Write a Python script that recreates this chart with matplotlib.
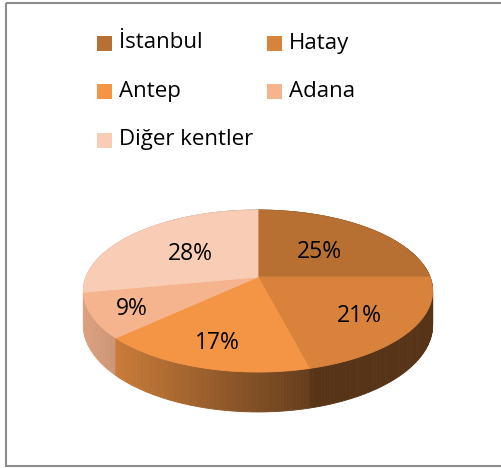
import numpy as np
import matplotlib.pyplot as plt
from matplotlib.patches import Polygon, Rectangle

labels = ['İstanbul', 'Hatay', 'Antep', 'Adana', 'Diğer kentler']
values = [25, 21, 17, 9, 28]
colors = ['#B77032', '#D9823C', '#F39545', '#F5B48E', '#F8CCB5']

W, H = 502, 468
CX, CY = 258, 277      # pie apex, pixels
SX, SY = 172, 78.6     # disk scale
K = 0.173              # perspective strength
DEPTH = 33             # side wall height

plt.rcParams['font.family'] = ['Open Sans', 'DejaVu Sans']


def project(r, ang):
  # ang in degrees, clockwise from 12 o'clock, in the disk plane
  a = np.radians(ang)
  u = r * np.sin(a)
  v = r * np.cos(a)
  w = 1 + K * v
  return CX + SX * u / w, CY - SY * v / w, v, w


def shade(c, f):
  rgb = np.array(plt.matplotlib.colors.to_rgb(c))
  return tuple(np.clip(rgb * f, 0, 1))


fig = plt.figure(figsize=(5.02, 4.68), dpi=100)
ax = fig.add_axes([0, 0, 1, 1])
ax.set_xlim(0, W)
ax.set_ylim(H, 0)
ax.axis('off')

# chart frame
ax.add_patch(Rectangle((6, 3), 540, 463, fill=False, edgecolor='#8c8c8c', lw=1.5))

total = float(sum(values))
ends = np.cumsum(values) / total * 360.0
starts = np.concatenate([[0], ends[:-1]])

# silhouette extent for side shading
xs_all, _, _, _ = project(1.0, np.linspace(0, 360, 721))
xmin, xmax = xs_all.min(), xs_all.max()

# side walls, painter's order (far first)
strips = []
for i in range(len(values)):
  t = np.linspace(starts[i], ends[i], max(int(values[i] * 4), 8))
  for a0, a1 in zip(t[:-1], t[1:]):
    x0, y0, v0, w0 = project(1.0, a0)
    x1, y1, v1, w1 = project(1.0, a1)
    pts = [(x0, y0), (x1, y1), (x1, y1 + DEPTH / w1), (x0, y0 + DEPTH / w0)]
    xn = ((x0 + x1) / 2 - xmin) / (xmax - xmin)
    f = np.clip(0.9 - 0.75 * xn, 0.4, 1.0)
    strips.append(((v0 + v1) / 2, pts, shade(colors[i], f)))
strips.sort(key=lambda s: -s[0])
for _, pts, c in strips:
  ax.add_patch(Polygon(pts, closed=True, facecolor=c, edgecolor=c, lw=0.6))

# top faces
for i in range(len(values)):
  t = np.linspace(starts[i], ends[i], max(int(values[i] * 4), 8))
  x, y, _, _ = project(1.0, t)
  pts = [(CX, CY)] + list(zip(x, y))
  ax.add_patch(Polygon(pts, closed=True, facecolor=colors[i], edgecolor=colors[i], lw=0.6))

# percentage labels (pushed outwards on the near side, like Excel does)
for i in range(len(values)):
  mid = (starts[i] + ends[i]) / 2
  r = 0.62 - 0.12 * np.cos(np.radians(mid))
  if values[i] / total < 0.1:
    r += 0.1
  lx, ly, _, _ = project(r, mid)
  ax.text(lx, ly + 3, '%d%%' % round(values[i] / total * 100), ha='center', va='center',
          fontsize=16.5, color='black')

# legend
for i, lab in enumerate(labels):
  col, row = i % 2, i // 2
  x0 = 97 + col * 170
  yc = 43 + row * 48.5
  ax.add_patch(Rectangle((x0, yc - 7.5), 15, 15, facecolor=colors[i], edgecolor='none'))
  ax.text(x0 + 22, yc, lab, ha='left', va='center', fontsize=16, color='black')

fig.savefig('out.png', dpi=100)
